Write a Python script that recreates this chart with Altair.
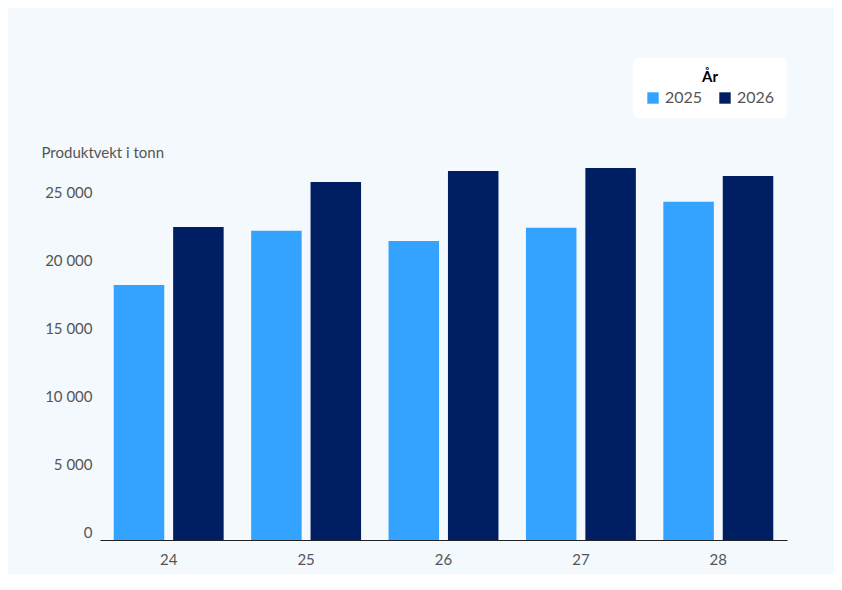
import altair as alt
import pandas as pd

weeks = ["24", "25", "26", "27", "28"]
v2025 = [18800, 22790, 22050, 23010, 24930]
v2026 = [23080, 26400, 27210, 27430, 26840]

rows = []
for w, a, b in zip(weeks, v2025, v2026):
    rows.append({"Uke": w, "År": "2025", "v": a})
    rows.append({"Uke": w, "År": "2026", "v": b})
df = pd.DataFrame(rows)

FONT = "Lato"
chart = alt.Chart(df).mark_bar().encode(
    x=alt.X("Uke:N", title=None, sort=weeks,
            scale=alt.Scale(paddingInner=0.2, paddingOuter=0.1),
            axis=alt.Axis(labelAngle=0, labelFontSize=15, labelColor="#555", labelPadding=12,
                          domainColor="#222", ticks=False, labelFont=FONT)),
    xOffset=alt.XOffset("År:N", scale=alt.Scale(paddingInner=0.15)),
    y=alt.Y("v:Q", scale=alt.Scale(domain=[0, 28750], nice=False),
            axis=alt.Axis(values=[0, 5000, 10000, 15000, 20000, 25000], format=",d",
                          labelExpr="replace(datum.label, ',', ' ')",
                          domain=False, ticks=False, grid=False, labelFontSize=15,
                          labelColor="#555", labelFont=FONT, labelBaseline="bottom",
                          labelPadding=8,
                          title="Produktvekt i tonn", titleAngle=0, titleAlign="left",
                          titleBaseline="middle", titleX=-59, titleY=2,
                          titleFontSize=15, titleFontWeight="normal", titleColor="#555",
                          titleFont=FONT)),
    color=alt.Color("År:N", scale=alt.Scale(domain=["2025", "2026"], range=["#33a3ff", "#001e62"]),
                    legend=alt.Legend(orient="none", legendX=533, legendY=-92, direction="horizontal",
                                      title="År", titleAnchor="middle", titleFontSize=15,
                                      titleFont=FONT, labelFont=FONT, labelFontSize=16,
                                      labelColor="#555", symbolType="square", symbolSize=130,
                                      fillColor="white", cornerRadius=6, padding=12,
                                      columnPadding=14)),
).properties(
    width=687, height=390,
    title=alt.TitleParams("Eksportert volum siste fem uker", fontSize=23, font=FONT,
                          fontWeight="normal", color="#0b1d5c", offset=105, dx=-28),
    background="#f3f9fd",
    autosize=alt.AutoSizeParams(type="none"),
    padding={"left": 92, "top": 142, "right": 47, "bottom": 34},
).configure_view(stroke=None)

chart.save("out.html", embed_options={"renderer": "svg", "actions": False})
